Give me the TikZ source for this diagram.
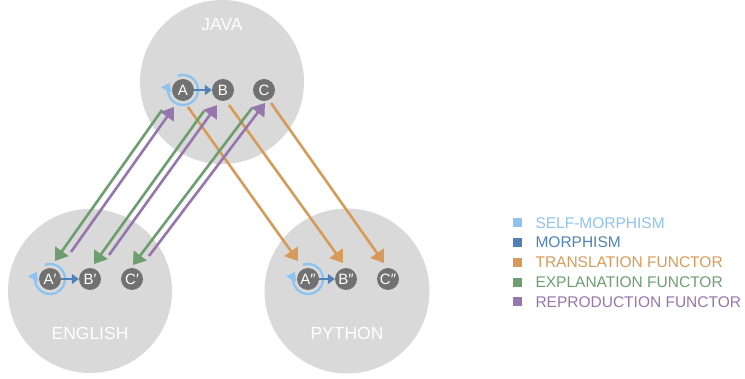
\documentclass[tikz,border=0pt]{standalone}
\usepackage{fontspec}
\setmainfont{Liberation Sans}
\usepackage{tikz}
\usetikzlibrary{calc,arrows.meta}

\definecolor{bubble}{HTML}{D9D9D9}
\definecolor{objgray}{HTML}{717171}
\definecolor{selfblue}{HTML}{8DC3F0}
\definecolor{morblue}{HTML}{4F82B8}
\definecolor{transorange}{HTML}{D89A58}
\definecolor{explgreen}{HTML}{6C9E6F}
\definecolor{reprpurple}{HTML}{9676AD}

\tikzset{
	obj/.style={circle, fill=objgray, text=white, minimum size=22pt, inner sep=0pt, font=\fontsize{15}{15}\selectfont},
	lang/.style={text=white, font=\fontsize{17.5}{18}\selectfont},
	functor/.style={line width=2.6pt, -{Triangle[length=12pt,width=16pt]}},
	morphism/.style={line width=2.6pt, morblue, -{Triangle[length=7pt,width=10pt]}},
	selfloop/.style={line width=2.3pt, selfblue, -{Triangle[length=8pt,width=11pt]}},
	legend/.style={anchor=west, font=\fontsize{15.5}{16}\selectfont}
}

\begin{document}
\begin{tikzpicture}[x=1pt,y=-1pt]
	\useasboundingbox (0,0) rectangle (745,379);

	% the three languages
	\fill[bubble] (222,82) circle[radius=82];
	\fill[bubble] (90,291) circle[radius=82];
	\fill[bubble] (347,291) circle[radius=82.5];
	\node[lang] (java) at (222,25) {JAVA};
	\node[lang] (english) at (90,333) {ENGLISH};
	\node[lang] (python) at (347,333) {PYTHON};

	% objects
	\node[obj] (jA) at (183,90) {A};
	\node[obj] (jB) at (223,90) {B};
	\node[obj] (jC) at (264,90) {C};
	\node[obj] (eA) at (50,279) {A′};
	\node[obj] (eB) at (90,279) {B′};
	\node[obj] (eC) at (132,279) {C′};
	\node[obj] (pA) at (308,279) {A″};
	\node[obj] (pB) at (346,279) {B″};
	\node[obj] (pC) at (388,279) {C″};

	% self-morphisms and morphisms
	\foreach \o in {jA,eA,pA}{
		\draw[selfloop] ([shift={(-110:15)}]\o.center) arc[start angle=-110, end angle=208, radius=15];
	}
	\draw[morphism] (jA) -- (jB);
	\draw[morphism] (eA) -- (eB);
	\draw[morphism] (pA) -- (pB);

	% translation functor
	\draw[functor, transorange] ([shift={(5,17)}]jA.center) -- ([shift={(-10,-18)}]pA.center);
	\draw[functor, transorange] ([shift={(6,15)}]jB.center) -- ([shift={(-3,-16)}]pB.center);
	\draw[functor, transorange] ([shift={(7,13)}]jC.center) -- ([shift={(-4,-16)}]pC.center);

	% explanation functor
	\draw[functor, explgreen] ([shift={(-21,20)}]jA.center) -- ([shift={(5,-18)}]eA.center);
	\draw[functor, explgreen] ([shift={(-19,21)}]jB.center) -- ([shift={(4,-15)}]eB.center);
	\draw[functor, explgreen] ([shift={(-12,18)}]jC.center) -- ([shift={(1,-14)}]eC.center);

	% reproduction functor
	\draw[functor, reprpurple] ([shift={(21,-27)}]eA.center) -- ([shift={(-9,17)}]jA.center);
	\draw[functor, reprpurple] ([shift={(19,-24)}]eB.center) -- ([shift={(-6,15)}]jB.center);
	\draw[functor, reprpurple] ([shift={(17,-23)}]eC.center) -- ([shift={(1,13)}]jC.center);

	% legend
	\foreach \c/\t [count=\i] in {selfblue/SELF-MORPHISM, morblue/MORPHISM, transorange/TRANSLATION FUNCTOR, explgreen/EXPLANATION FUNCTOR, reprpurple/REPRODUCTION FUNCTOR}{
		\fill[\c] (513,{198.5+19.8*\i}) rectangle ++(9,9);
		\node[legend, text=\c] (key\i) at (532,{203+19.8*\i}) {\t};
	}
\end{tikzpicture}
\end{document}
